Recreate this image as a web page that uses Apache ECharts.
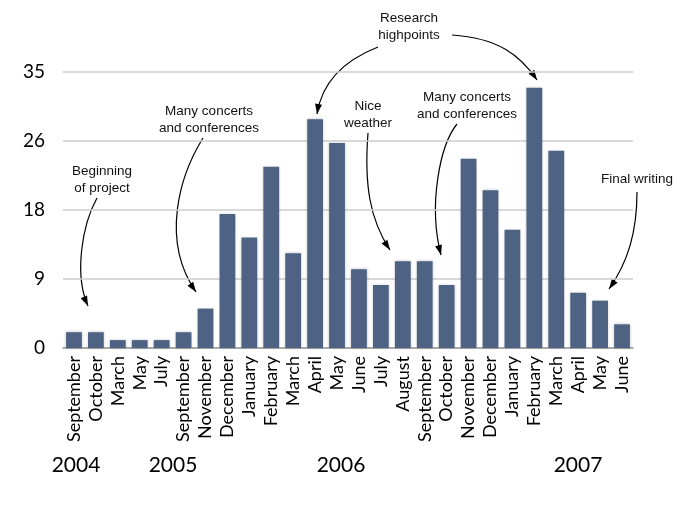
<!DOCTYPE html>
<html>
<head>
<meta charset="utf-8">
<script src="https://cdn.jsdelivr.net/npm/echarts@6/dist/echarts.min.js"></script>
<style>html,body{margin:0;padding:0;background:#fff;}#c{width:690px;height:516px;}</style>
</head>
<body>
<div id="c"></div>
<script>
const categories = ['September','October','March','May','July','September','November','December',
  'January','February','March','April','May','June','July','August','September','October','November','December',
  'January','February','March','April','May','June'];
const values = [2,2,1,1,1,2,5,17,14,23,12,29,26,10,8,11,11,8,24,20,15,33,25,7,6,3];
const yTickLabels = [0,9,18,26,35];
const years = ['2004','2005','2006','2007'];
const yearX = [76,173,341,578];
const notes = [
  {text:'Beginning\nof project', x:102, y:180},
  {text:'Many concerts\nand conferences', x:209, y:120},
  {text:'Research\nhighpoints', x:409, y:27},
  {text:'Nice\nweather', x:368, y:115},
  {text:'Many concerts\nand conferences', x:467, y:106},
  {text:'Final writing', x:637, y:179}
];
const arrows = [
  [97,198, 82,225, 74,275, 88,306],
  [203,138, 180,175, 160,240, 196,292],
  [378,47, 345,60, 322,82, 317,114],
  [452,35, 498,38, 520,55, 537,80],
  [368,133, 364,185, 370,220, 390,250],
  [457,124, 440,145, 428,205, 441,255],
  [637,192, 637,232, 628,262, 609,289]
];

const chart = echarts.init(document.getElementById('c'), null, {renderer:'canvas'});
const graphics = [];
years.forEach((t,i)=>{
  graphics.push({type:'text', x:yearX[i], y:465, style:{text:t, fill:'#000', fontFamily:'Lato', fontSize:21, align:'center', verticalAlign:'middle'}});
});
notes.forEach(n=>{
  graphics.push({type:'text', x:n.x, y:n.y, style:{text:n.text, fill:'#111', fontFamily:'Liberation Sans', fontSize:13.5, lineHeight:17, align:'center', verticalAlign:'middle'}});
});
arrows.forEach(a=>{
  graphics.push({type:'bezierCurve', shape:{x1:a[0],y1:a[1],cpx1:a[2],cpy1:a[3],cpx2:a[4],cpy2:a[5],x2:a[6],y2:a[7]},
    style:{stroke:'#000', lineWidth:1.2, fill:null}});
  const dx=a[6]-a[4], dy=a[7]-a[5], L=Math.hypot(dx,dy), ux=dx/L, uy=dy/L;
  const len=10, w=3.5;
  const bx=a[6]-ux*len, by=a[7]-uy*len;
  graphics.push({type:'polygon', shape:{points:[[a[6],a[7]],[bx-uy*w,by+ux*w],[bx+uy*w,by-ux*w]]}, style:{fill:'#000'}});
});

chart.setOption({
  animation:false,
  backgroundColor:'#fff',
  grid:{left:63, right:57, top:72, bottom:168, containLabel:false},
  xAxis:{type:'category', data:categories,
    axisLine:{lineStyle:{color:'#9a9a9a', width:1.5}}, axisTick:{show:false},
    axisLabel:{rotate:90, interval:0, margin:8, color:'#000', fontFamily:'Lato', fontSize:18}},
  yAxis:{type:'value', min:0, max:35, interval:8.75,
    axisLine:{show:false}, axisTick:{show:false},
    splitLine:{lineStyle:{color:'#cccccc', width:1.5}},
    axisLabel:{margin:18, color:'#000', fontFamily:'Lato', fontSize:19,
      formatter:(v)=>String(yTickLabels[Math.round(v/8.75)])}},
  series:[{type:'bar', data:values, barWidth:'72%',
    itemStyle:{color:'#4e6283', shadowColor:'rgba(0,0,0,0.25)', shadowBlur:3}}],
  graphic:graphics
});
</script>
</body>
</html>
